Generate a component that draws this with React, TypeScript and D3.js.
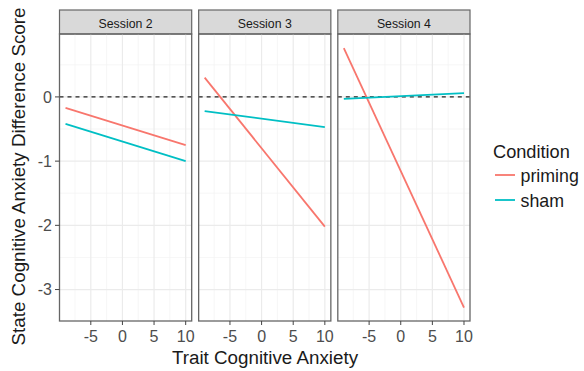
import React from 'react';
import * as d3 from 'd3';

const sessions = ['Session 2', 'Session 3', 'Session 4'];
const conditions = ['priming', 'sham'];
const colors = ['#F8766D', '#00BFC4'];
const xEnds = [-9, 10];
// fitted line end values (at x = -9 and x = 10) per session
const primingValues = [[-0.17, -0.75], [0.3, -2.02], [0.76, -3.28]];
const shamValues = [[-0.42, -1.0], [-0.22, -0.47], [-0.03, 0.06]];
const xTicks = [-5, 0, 5, 10];
const xMinor = [-7.5, -2.5, 2.5, 7.5];
const yTicks = [0, -1, -2, -3];
const yMinor = [0.5, -0.5, -1.5, -2.5];

const FONT = 'Liberation Sans, Arial, sans-serif';

export default function App() {
  const width = 584;
  const height = 371;
  const stripTop = 10;
  const panelTop = 34;
  const panelBottom = 321;

  const panelX = d3.scaleBand<string>().domain(sessions).range([59.5, 470]).paddingInner(0.05);
  const y = d3.scaleLinear().domain([-3.49, 0.98]).range([panelBottom, panelTop]);
  const series = [primingValues, shamValues];

  const line = d3.line<[number, number]>().x(d => d[0]).y(d => d[1]);
  const fmt = (v: number) => (v < 0 ? '-' + Math.abs(v) : String(v));

  return (
    <svg width={width} height={height} style={{ position: 'absolute', left: 0, top: 0 }} fontFamily={FONT}>
      <rect width={width} height={height} fill="#fff" />
      {sessions.map((s, si) => {
        const left = panelX(s)!;
        const bw = panelX.bandwidth();
        const x = d3.scaleLinear().domain([-9.95, 10.95]).range([left, left + bw]);
        return (
          <g key={s}>
            {/* strip */}
            <rect x={left} y={stripTop} width={bw} height={panelTop - stripTop} fill="#d9d9d9" stroke="#666" strokeWidth={1.2} />
            <text x={left + bw / 2} y={28} textAnchor="middle" fontSize={12.3} fill="#1a1a1a">{s}</text>
            {/* grid */}
            {yMinor.map(v => (
              <line key={'ym' + v} x1={left} x2={left + bw} y1={y(v)} y2={y(v)} stroke="#f2f2f2" strokeWidth={0.7} />
            ))}
            {xMinor.map(v => (
              <line key={'xm' + v} x1={x(v)} x2={x(v)} y1={panelTop} y2={panelBottom} stroke="#f2f2f2" strokeWidth={0.7} />
            ))}
            {yTicks.map(v => (
              <line key={'y' + v} x1={left} x2={left + bw} y1={y(v)} y2={y(v)} stroke="#ebebeb" strokeWidth={1.2} />
            ))}
            {xTicks.map(v => (
              <line key={'x' + v} x1={x(v)} x2={x(v)} y1={panelTop} y2={panelBottom} stroke="#ebebeb" strokeWidth={1.2} />
            ))}
            {/* reference line */}
            <line x1={left} x2={left + bw} y1={y(0)} y2={y(0)} stroke="#222" strokeWidth={1.1} strokeDasharray="4,4" />
            {/* fitted lines */}
            {series.map((vals, ci) => (
              <path
                key={conditions[ci]}
                d={line(xEnds.map((xv, i) => [x(xv), y(vals[si][i])]) as [number, number][])!}
                fill="none"
                stroke={colors[ci]}
                strokeWidth={1.8}
              />
            ))}
            {/* border */}
            <rect x={left} y={panelTop} width={bw} height={panelBottom - panelTop} fill="none" stroke="#666" strokeWidth={1.3} />
            {/* x axis ticks */}
            {xTicks.map(v => (
              <g key={'xt' + v}>
                <line x1={x(v)} x2={x(v)} y1={panelBottom} y2={panelBottom + 4} stroke="#444" />
                <text x={x(v)} y={341.5} textAnchor="middle" fontSize={16} fill="#4d4d4d">{fmt(v)}</text>
              </g>
            ))}
          </g>
        );
      })}
      {/* y axis */}
      {yTicks.map(v => (
        <g key={'yt' + v}>
          <line x1={55} x2={59.5} y1={y(v)} y2={y(v)} stroke="#444" />
          <text x={52} y={y(v) + 5.7} textAnchor="end" fontSize={16} fill="#4d4d4d">{fmt(v)}</text>
        </g>
      ))}
      <text x={265} y={364} textAnchor="middle" fontSize={18.8} fill="#1a1a1a">Trait Cognitive Anxiety</text>
      <text transform={`translate(24.5,${(panelTop + panelBottom) / 2 - 1}) rotate(-90)`} textAnchor="middle" fontSize={18.8} fill="#1a1a1a">
        State Cognitive Anxiety Difference Score
      </text>
      {/* legend */}
      <text x={493} y={158} fontSize={18.2} fill="#1a1a1a">Condition</text>
      {conditions.map((c, i) => (
        <g key={c} transform={`translate(495,${175 + i * 25})`}>
          <line x1={0} x2={20} y1={0} y2={0} stroke={colors[i]} strokeWidth={1.8} />
          <text x={25.5} y={6.5} fontSize={17.8} fill="#1a1a1a">{c}</text>
        </g>
      ))}
    </svg>
  );
}
